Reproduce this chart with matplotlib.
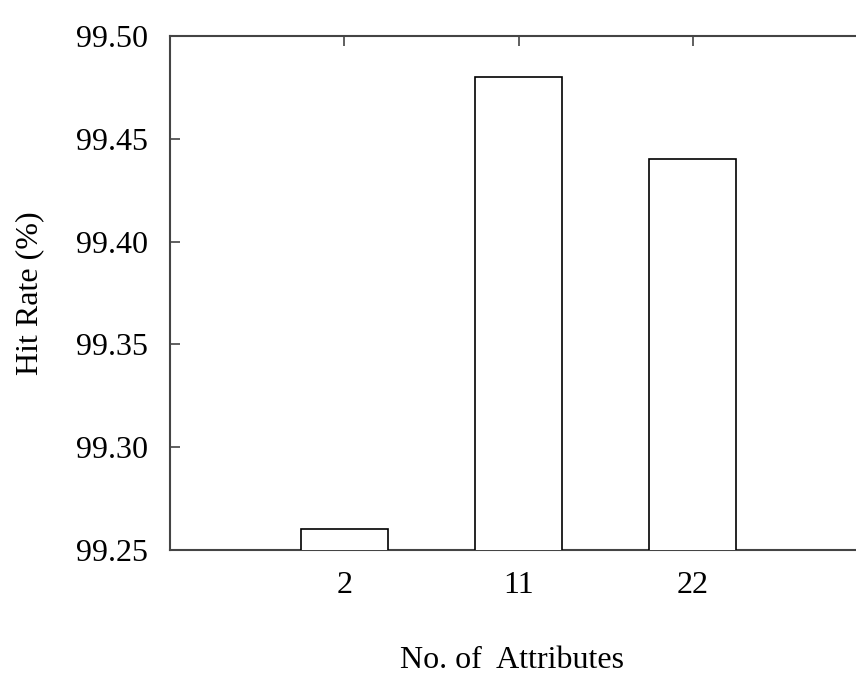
import matplotlib
matplotlib.use("Agg")
import matplotlib.pyplot as plt

categories = ["2", "11", "22"]
hit_rate = [99.26, 99.48, 99.44]
yticks = [99.25, 99.30, 99.35, 99.40, 99.45, 99.50]
ytick_labels = ["99.25", "99.30", "99.35", "99.40", "99.45", "99.50"]

plt.rcParams['font.family'] = ['Liberation Serif', 'DejaVu Serif']

W, H = 856, 688
fig = plt.figure(figsize=(W / 100, H / 100), dpi=100)
left, right, top, bottom = 170, 867, 36, 550
ax = fig.add_axes([left / W, 1 - bottom / H, (right - left) / W, (bottom - top) / H])

x = list(range(len(categories)))
ax.bar(x, hit_rate, width=0.5, bottom=0, color='white', edgecolor='black', linewidth=1.2, zorder=3)

ax.set_xlim(-1, 3)
ax.set_ylim(99.25, 99.50)
ax.set_yticks(yticks)
ax.set_yticklabels(ytick_labels)
ax.set_xticks(x)
ax.set_xticklabels(categories)

ax.tick_params(axis='both', direction='in', length=7, width=1.2, color='#444444', labelsize=23)
ax.tick_params(axis='y', pad=16, right=False)
ax.tick_params(axis='x', pad=15, top=True)

for s in ax.spines.values():
    s.set_color('#444444')
    s.set_linewidth(1.5)

ax.set_ylabel("Hit Rate (%)", fontsize=23)
ax.yaxis.set_label_coords((30 - left) / (right - left), 0.5)
ax.set_xlabel("No. of  Attributes", fontsize=23)
ax.xaxis.set_label_coords(0.49, -(661 - bottom) / (bottom - top))
ax.xaxis.label.set_va('center')
ax.yaxis.label.set_va('center')

fig.savefig("out.png", dpi=100)
